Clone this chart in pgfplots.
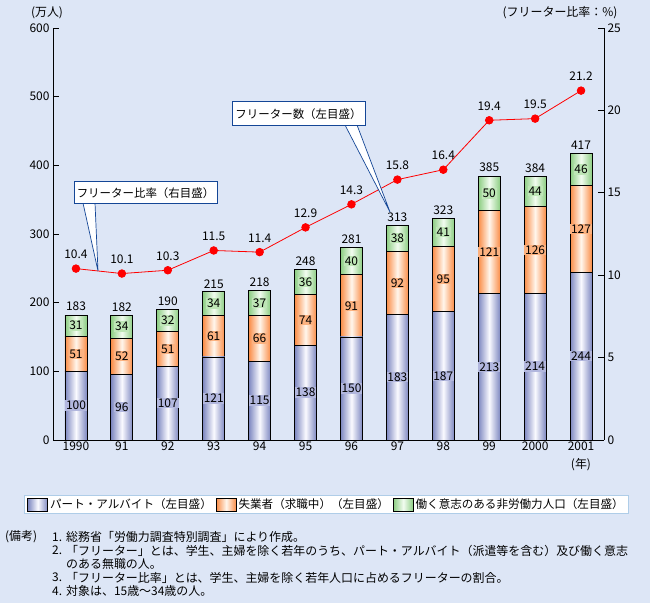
\documentclass[border=0pt]{standalone}
\usepackage{fontspec}
\setmainfont{Noto Sans CJK JP}
\usepackage{pgfplots}
\usepackage{pgfplotstable}
\pgfplotsset{compat=1.18}
\setlength{\fboxsep}{0.8pt}
\definecolor{bg}{RGB}{221,230,246}
\definecolor{bluedk}{RGB}{125,135,192}
\definecolor{orangedk}{RGB}{250,140,70}
\definecolor{greendk}{RGB}{140,205,130}
\definecolor{bluelt}{RGB}{250,250,255}
\definecolor{orangelt}{RGB}{255,246,236}
\definecolor{greenlt}{RGB}{242,252,240}
\definecolor{bluelab}{RGB}{178,183,222}
\definecolor{orangelab}{RGB}{252,178,128}
\definecolor{greenlab}{RGB}{190,230,182}
\definecolor{callbd}{RGB}{20,70,150}
\definecolor{legbd}{RGB}{175,205,232}
\pgfplotstableread{
x part unemp nonlab total ratio
0 100 51 31 183 10.4
1 96 52 34 182 10.1
2 107 51 32 190 10.3
3 121 61 34 215 11.5
4 115 66 37 218 11.4
5 138 74 36 248 12.9
6 150 91 40 281 14.3
7 183 92 38 313 15.8
8 187 95 41 323 16.4
9 213 121 50 385 19.4
10 214 126 44 384 19.5
11 244 127 46 417 21.2
}\data
\pgfplotsset{
  base/.style={at={(53bp,163bp)}, anchor=south west, scale only axis,
    width=551bp, height=412bp, xmin=-0.5, xmax=11.5,
    /pgf/number format/assume math mode=true,
    tick align=inside, major tick length=6bp,
    axis line style={line width=0.9bp, black},
    tick style={line width=0.9bp, black},
    tick label style={font=\fontsize{12}{14}\selectfont}},
  seg/.style n args={4}{draw=none, fill=none,
    nodes near coords={\colorbox{#2}{\pgfplotspointmeta}}, point meta=explicit symbolic,
    visualization depends on={\thisrow{#1}\as\seg},
    every node near coord/.append style={anchor=center, minimum width=22bp,
      minimum height=\seg*0.68667bp, inner sep=0pt, draw=black, line width=0.8bp,
      left color=#3, right color=#3, middle color=#4, text=black,
      font=\fontsize{12}{13}\selectfont}}
}
\begin{document}
\begin{tikzpicture}[x=1bp,y=1bp,font=\fontsize{12}{14}\selectfont]
\path[use as bounding box] (0,0) rectangle (650,603);
\fill[bg] (0,0) rectangle (650,603);

\begin{axis}[base, ybar stacked, bar width=22bp,
  ymin=0, ymax=600, ytick={0,100,...,600},
  axis x line*=bottom, axis y line*=left,
  xtick={0,...,11}, xticklabels={1990,91,92,93,94,95,96,97,98,99,2000,2001},
  xtick style={draw=none}, xticklabel style={yshift=2bp},
  legend columns=3,
  legend image code/.code={\draw[#1,draw=black,line width=0.8bp] (0bp,-6.5bp) rectangle (20bp,6.5bp);},
  legend style={at={(0.4964,-0.157)}, anchor=center, draw=legbd, fill=white,
    line width=0.9bp, font=\fontsize{11.6}{14}\selectfont,
    inner xsep=3bp, inner ysep=1.5bp,
    /tikz/every even column/.append style={column sep=2bp}},
]
\addlegendimage{left color=bluedk, right color=bluedk, middle color=bluelt}
\addlegendimage{left color=orangedk, right color=orangedk, middle color=orangelt}
\addlegendimage{left color=greendk, right color=greendk, middle color=greenlt}
\addplot[seg={part}{bluelab}{bluedk}{bluelt}] table[x=x,y=part,meta=part]{\data};
\addplot[seg={unemp}{orangelab}{orangedk}{orangelt}] table[x=x,y=unemp,meta=unemp]{\data};
\addplot[seg={nonlab}{greenlab}{greendk}{greenlt}] table[x=x,y=nonlab,meta=nonlab]{\data};
\legend{パート・アルバイト（左目盛）, 失業者（求職中）（左目盛）, 働く意志のある非労働力人口（左目盛）}
\end{axis}

\begin{axis}[base, hide axis, ymin=0, ymax=600]
\addplot[draw=none, mark=none, nodes near coords, point meta=explicit symbolic,
  every node near coord/.append style={anchor=south, inner sep=1bp, yshift=2.5bp, text=black,
    font=\fontsize{12}{13}\selectfont}]
  table[x=x,y=total,meta=total]{\data};
\end{axis}

\begin{axis}[base, ymin=0, ymax=25, ytick={0,5,...,25},
  axis y line*=right, axis x line=none]
\addplot[red, line width=0.8bp, mark=*, mark size=3.8bp, mark options={fill=red, draw=red},
  nodes near coords, point meta=explicit symbolic,
  every node near coord/.append style={anchor=south, inner sep=2bp, yshift=7.5bp, text=black,
    font=\fontsize{12}{13}\selectfont}]
  table[x=x,y=ratio,meta=ratio]{\data};
\end{axis}

% callouts
\filldraw[fill=white, draw=callbd, line width=0.7bp] (83,400) -- (98,332) -- (95,400);
\node[draw=callbd, fill=white, line width=1bp, minimum width=143bp, minimum height=22bp,
  inner sep=0pt, font=\fontsize{11.5}{13}\selectfont] at (145.5,410) {フリーター比率（右目盛）};
\filldraw[fill=white, draw=callbd, line width=0.7bp] (345,478) -- (390,391) -- (357,478);
\node[draw=callbd, fill=white, line width=1bp, minimum width=133bp, minimum height=24bp,
  inner sep=0pt, font=\fontsize{11.5}{13}\selectfont] at (298.5,489) {フリーター数（左目盛）};

% axis titles
\node at (47,590) {(万人)};
\node at (560,590) {(フリーター比率：\%)};
\node at (581,138) {(年)};

% notes
\node[anchor=west, inner sep=0pt] at (5,66) {(備考)};
\node[anchor=west, inner sep=0pt] at (52,66) {1.};
\node[anchor=west, inner sep=0pt] at (66,66) {総務省「労働力調査特別調査」により作成。};
\node[anchor=west, inner sep=0pt] at (52,52.5) {2.};
\node[anchor=west, inner sep=0pt] at (66,52.5) {「フリーター」とは、学生、主婦を除く若年のうち、パート・アルバイト（派遣等を含む）及び働く意志};
\node[anchor=west, inner sep=0pt] at (66,39) {のある無職の人。};
\node[anchor=west, inner sep=0pt] at (52,25.5) {3.};
\node[anchor=west, inner sep=0pt] at (66,25.5) {「フリーター比率」とは、学生、主婦を除く若年人口に占めるフリーターの割合。};
\node[anchor=west, inner sep=0pt] at (52,12) {4.};
\node[anchor=west, inner sep=0pt] at (66,12) {対象は、15歳～34歳の人。};
\end{tikzpicture}
\end{document}
